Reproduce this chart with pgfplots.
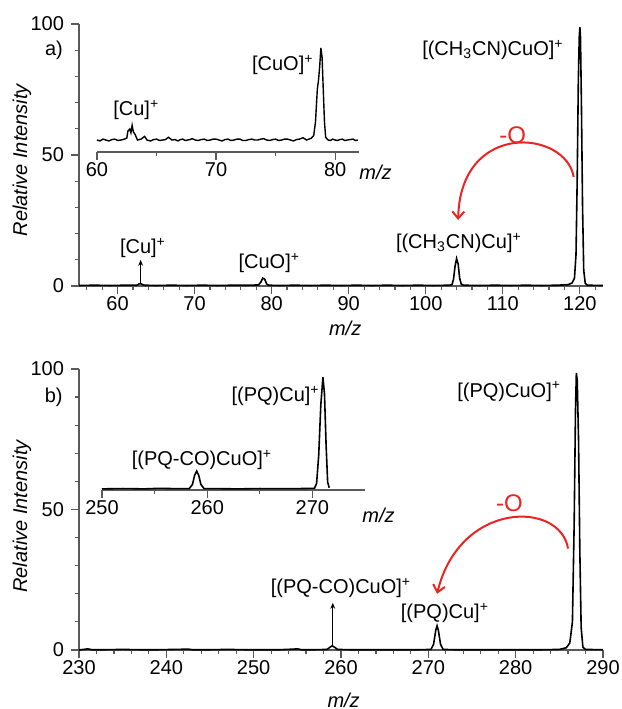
\documentclass[border=0pt]{standalone}
\usepackage{fontspec}
\setmainfont{Liberation Sans}
\usepackage{pgfplots}
\pgfplotsset{compat=1.18}
\usetikzlibrary{arrows.meta}

\definecolor{axisgray}{RGB}{90,90,90}
\definecolor{arrowred}{RGB}{235,35,35}

\pgfplotsset{
  msaxis/.style={
    scale only axis, anchor=south west, clip=false,
    axis x line=bottom, axis y line=left,
    axis line style={-, axisgray, line width=0.7pt},
    tick style={axisgray, line width=0.6pt},
    tick align=outside,
    major tick length=4pt, minor tick length=2pt,
    font=\fontsize{10}{12}\selectfont,
    /pgf/number format/assume math mode=true,
    xticklabel style={inner sep=1pt},
  },
  spec/.style={black, line width=0.8pt, no markers},
}
\tikzset{
  redarrow/.style={arrowred, line width=1pt, -{Straight Barb[length=3.5pt,width=6pt]}},
  blackarrow/.style={black, line width=0.5pt, -{Stealth[length=3pt,width=2.4pt]}},
  minus o/.style={text=arrowred, font=\fontsize{12}{14}\selectfont},
}

\begin{document}
\begin{tikzpicture}
\path[use as bounding box] (0,0) rectangle (311pt,354.5pt);

% ---------- a) main ----------
\begin{axis}[msaxis,
    at={(39.5pt,211.5pt)}, width=262pt, height=131pt,
    xmin=55, xmax=123, ymin=0, ymax=100,
    xtick={60,70,...,120}, minor xtick={56,58,...,122},
    ytick={0,50,100}, minor ytick={10,20,30,40,60,70,80,90},
    ylabel={\itshape Relative Intensity},
    ylabel style={at={(axis description cs:-0.109,0.48)}, anchor=center},
    xlabel={\itshape m/z},
    xlabel style={at={(axis description cs:0.508,0)}, anchor=center, yshift=-21pt},
]
\addplot[spec] coordinates {
(55,0.2)(57,0.3)(59,0.2)(61,0.3)(62.5,0.3)(62.8,0.8)(63.0,0.9)(63.2,0.6)(63.5,0.3)
(65,0.2)(67,0.3)(69,0.2)(71,0.3)(73,0.2)(75,0.3)(77,0.3)(78.3,0.4)(78.6,1.5)
(78.85,3.0)(79.1,2.6)(79.35,0.8)(79.6,0.3)(81,0.2)(83,0.3)(85,0.2)(87,0.3)(89,0.2)
(91,0.3)(93,0.2)(95,0.3)(97,0.2)(99,0.3)(101,0.2)(103,0.3)(103.4,0.5)(103.6,2.5)
(103.8,7.5)(104.0,10.5)(104.2,8.5)(104.4,3)(104.6,0.7)(104.9,0.3)(107,0.2)(109,0.3)
(111,0.2)(113,0.3)(115,0.2)(117,0.3)(118.5,0.5)(119.0,1.2)(119.3,3)(119.5,12)
(119.65,40)(119.8,78)(119.92,95)(120.0,98.8)(120.08,95)(120.2,70)(120.35,30)
(120.5,6)(120.7,1.0)(121,0.3)(123,0.2)
};
\node at (axis cs:51.75,90) {a)};
\node[anchor=east] at (axis cs:118.8,90) {[(CH\textsubscript{3}CN)CuO]\textsuperscript{+}};
\node at (axis cs:104.3,16.5) {[(CH\textsubscript{3}CN)Cu]\textsuperscript{+}};
\node at (axis cs:63.3,14.5) {[Cu]\textsuperscript{+}};
\node at (axis cs:79.7,8.8) {[CuO]\textsuperscript{+}};
\node[minus o] at (axis cs:111.3,57.6) {-O};
\draw[blackarrow] (axis cs:63,0.8) -- (axis cs:63,10);
\draw[redarrow] (axis cs:119.2,41.6) .. controls (axis cs:118.2,59.5) and (axis cs:104.5,63.4) .. (axis cs:104.2,25.2);
\end{axis}

% ---------- a) inset ----------
\begin{axis}[msaxis,
    at={(48.5pt,278.5pt)}, width=131pt, height=56.6pt,
    axis y line=none,
    xmin=60, xmax=82, ymin=-13, ymax=110,
    xtick={60,70,80}, minor xtick={65,75}, ytick=\empty,
    xlabel={\itshape m/z},
    xlabel style={at={(axis description cs:1,0)}, anchor=west, inner sep=0pt, xshift=0pt, yshift=-10pt},
]
\addplot[spec, line width=0.7pt] coordinates {
(60,0)(60.25,-1)(60.5,1)(60.75,0)(61,-1)(61.25,0.5)(61.5,1)(61.75,-0.5)(62,0)
(62.3,1)(62.5,2)(62.6,10)(62.75,12)(62.85,8)(62.95,16)(63.05,9)(63.2,6)(63.4,0)
(63.7,1)(64,4)(64.2,0)(64.5,-1)(64.75,0.5)(65,1)(65.25,-0.5)(65.5,0)(65.75,0.5)
(66,3)(66.3,0)(66.55,0.5)(66.8,-1)(67,0.5)(67.2,1)(67.4,-0.5)(67.6,0)(67.8,0.5)
(68,1.5)(68.25,0)(68.5,-0.5)(68.75,0.5)(69,1)(69.25,-0.5)(69.5,0)(69.75,1)(70,1)
(70.25,0)(70.5,-1)(70.75,0.5)(71,1)(71.25,-0.5)(71.5,0)(71.75,1)(72,1)(72.25,-0.5)
(72.5,-0.5)(72.75,0.5)(73,1)(73.25,0)(73.5,0)(73.75,1)(74,1.5)(74.25,0)(74.5,-0.5)
(74.75,0.5)(75,1)(75.25,-0.5)(75.5,0)(75.75,1)(76,1)(76.25,0)(76.5,-1)(76.75,0.5)
(77,1)(77.3,2.5)(77.6,0)(77.8,1)(78,2)(78.2,5)(78.35,20)(78.5,55)(78.6,65)(78.7,80)
(78.8,100)(78.9,90)(79.0,55)(79.1,20)(79.2,3)(79.4,0)(79.6,-0.5)(79.8,1)(80,0)
(80.2,-0.5)(80.4,0.5)(80.6,1)(80.8,-0.5)(81,0)(81.25,0.5)(81.5,1)(81.7,-0.5)(81.9,0)
};
\node at (axis cs:63.3,32.6) {[Cu]\textsuperscript{+}};
\node at (axis cs:75.6,81.5) {[CuO]\textsuperscript{+}};
\end{axis}

% ---------- b) main ----------
\begin{axis}[msaxis,
    at={(39.5pt,29.5pt)}, width=262pt, height=140.5pt,
    xmin=230, xmax=290, ymin=0, ymax=100,
    xtick={230,240,...,290}, minor xtick={232,234,...,288},
    ytick={0,50,100}, minor ytick={10,20,30,40,60,70,80,90},
    ylabel={\itshape Relative Intensity},
    ylabel style={at={(axis description cs:-0.109,0.475)}, anchor=center},
    xlabel={\itshape m/z},
    xlabel style={at={(axis description cs:0.505,0)}, anchor=center, yshift=-25pt},
]
\addplot[spec] coordinates {
(230,0)(231,0.4)(231.5,0.1)(233,0.1)(235,0.2)(237,0.1)(239,0.1)(241,0.2)(242.5,0.3)
(243,0.1)(245,0.1)(247,0.2)(249,0.1)(251,0.1)(253,0.1)(254.5,0.3)(255,0.4)(255.5,0.1)
(257,0.1)(258.4,0.2)(258.7,0.9)(259.0,1.5)(259.3,0.9)(259.6,0.2)(261,0.1)(263,0.1)
(265,0.1)(267,0.1)(269,0.1)(270.3,0.2)(270.6,2)(270.85,7)(271.0,8.6)(271.15,7)
(271.4,2)(271.7,0.2)(273,0.1)(275,0.1)(277,0.1)(279,0.1)(281,0.1)(283,0.1)(285,0.2)
(285.8,0.8)(286.2,2.5)(286.5,10)(286.7,45)(286.85,85)(286.95,98.6)(287.05,96)
(287.2,75)(287.35,35)(287.5,8)(287.7,1)(288,0.2)(290,0.1)
};
\node at (axis cs:227.1,90) {b)};
\node[anchor=east] at (axis cs:286.0,92) {[(PQ)CuO]\textsuperscript{+}};
\node at (axis cs:260.0,22.1) {[(PQ-CO)CuO]\textsuperscript{+}};
\node at (axis cs:271.9,13.2) {[(PQ)Cu]\textsuperscript{+}};
\node[minus o] at (axis cs:279.3,52.1) {-O};
\draw[blackarrow] (axis cs:259.06,1.6) -- (axis cs:259.06,16.8);
\draw[redarrow] (axis cs:286.0,36.1) .. controls (axis cs:285.1,53.2) and (axis cs:273.6,53.2) .. (axis cs:271.0,20.0);
\end{axis}

% ---------- b) inset ----------
\begin{axis}[msaxis,
    at={(51pt,109.5pt)}, width=131.5pt, height=62pt,
    axis y line=none,
    xmin=250, xmax=275, ymin=-1, ymax=110,
    xtick={250,260,270}, minor xtick={255,265}, ytick=\empty,
    xlabel={\itshape m/z},
    xlabel style={at={(axis description cs:1,0)}, anchor=west, inner sep=0pt, xshift=-1.5pt, yshift=-12.5pt},
]
\addplot[spec] coordinates {
(250,0)(252,0.3)(254,0)(255.5,0.5)(257,0.2)(258.3,0.3)(258.6,4)(258.8,12)(259.0,16)
(259.2,12)(259.4,4)(259.7,0.3)(261,0.2)(263,0)(265,0.3)(267,0.2)(269,0.3)(270.2,0.5)
(270.4,5)(270.6,30)(270.8,75)(271.0,100)(271.15,85)(271.3,40)(271.45,6)(271.6,1)
};
\node at (axis cs:259.5,26) {[(PQ-CO)CuO]\textsuperscript{+}};
\node at (axis cs:266.5,83) {[(PQ)Cu]\textsuperscript{+}};
\end{axis}
\end{tikzpicture}
\end{document}
